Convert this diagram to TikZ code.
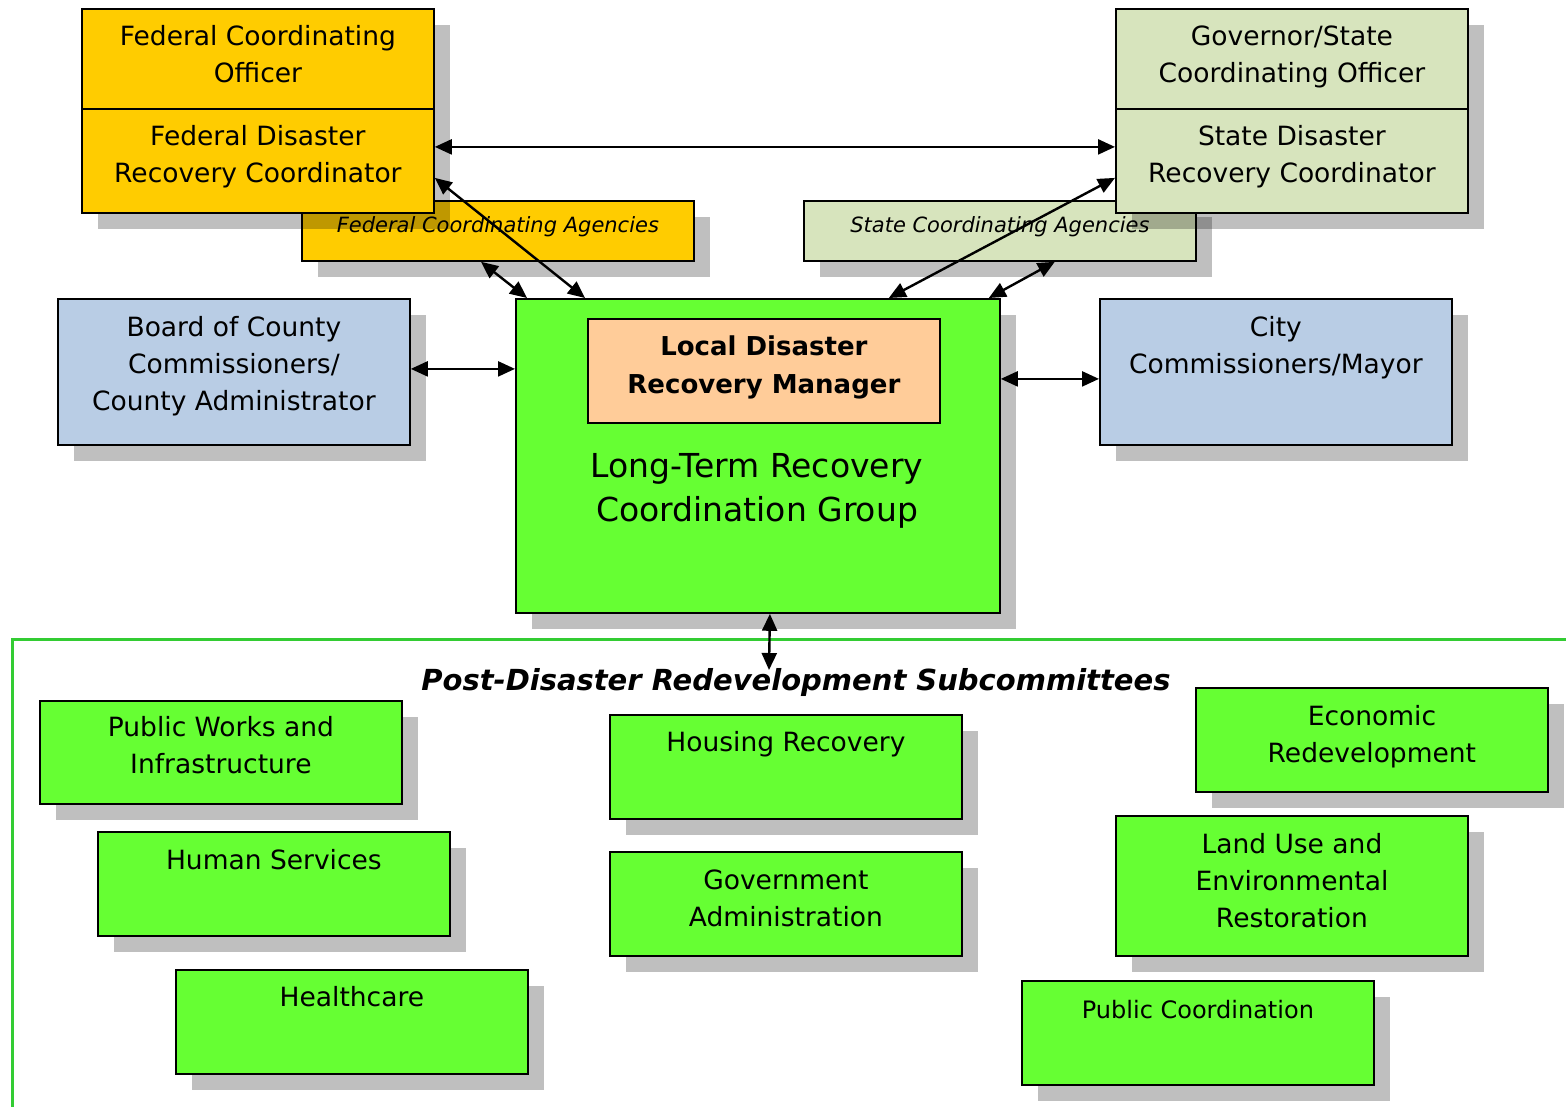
\documentclass[tikz,border=0pt]{standalone}
\usepackage{fontspec}
\setmainfont{DejaVu Sans}
\usetikzlibrary{arrows.meta,shadows}
\definecolor{fedY}{HTML}{FFCC00}
\definecolor{stateG}{HTML}{D7E4BD}
\definecolor{cntyB}{HTML}{B9CDE5}
\definecolor{brGreen}{HTML}{66FF33}
\definecolor{peach}{HTML}{FFCC99}
\definecolor{lineGreen}{HTML}{33CC33}
\begin{document}
\begin{tikzpicture}[x=1pt,y=-1pt,
  box/.style={draw=black, line width=1.8pt, anchor=north west, inner sep=0pt,
    drop shadow={shadow xshift=16pt, shadow yshift=-16pt, fill=black, opacity=0.25}},
  wbox/.style={box, minimum width=352pt, minimum height=104pt},
  subbox/.style={wbox, fill=brGreen},
  txt/.style={anchor=north, inner sep=0pt, align=center, font=\fontsize{26.5}{37}\selectfont},
  agtxt/.style={anchor=north, inner sep=0pt, align=center, font=\fontsize{21}{24}\selectfont\itshape},
  link/.style={line width=2.4pt, {Triangle[length=17pt,width=15pt]}-{Triangle[length=17pt,width=15pt]}}
]
\useasboundingbox (0,0) rectangle (1566,1107);

% coordinating agencies (drawn first, overlapped by shadows)
\node[box, fill=fedY, minimum width=392pt, minimum height=60pt] (fca) at (301,200) {};
\node[agtxt] (tfca) at ([yshift=-16pt]fca.north) {Federal Coordinating Agencies};
\node[box, fill=stateG, minimum width=392pt, minimum height=60pt] (sca) at (803,200) {};
\node[agtxt] (tsca) at ([yshift=-16pt]sca.north) {State Coordinating Agencies};

% federal
\node[wbox, fill=fedY, minimum height=100pt] (fco) at (81,8) {};
\node[txt] (tfco) at ([yshift=-17.3pt]fco.north) {Federal Coordinating\\Officer};
\node[wbox, fill=fedY] (fdrc) at (81,108) {};
\node[txt] (tfdrc) at ([yshift=-17.3pt]fdrc.north) {Federal Disaster\\Recovery Coordinator};

% state
\node[wbox, fill=stateG, minimum height=100pt] (gov) at (1115,8) {};
\node[txt] (tgov) at ([yshift=-17.3pt]gov.north) {Governor/State\\Coordinating Officer};
\node[wbox, fill=stateG] (sdrc) at (1115,108) {};
\node[txt] (tsdrc) at ([yshift=-17.3pt]sdrc.north) {State Disaster\\Recovery Coordinator};

% county / city
\node[wbox, fill=cntyB, minimum height=146pt] (board) at (57,298) {};
\node[txt] (tboard) at ([yshift=-18.3pt]board.north) {Board of County\\Commissioners/\\County Administrator};
\node[wbox, fill=cntyB, minimum height=146pt] (city) at (1099,298) {};
\node[txt] (tcity) at ([yshift=-18.3pt]city.north) {City\\Commissioners/Mayor};

% long-term recovery group
\node[box, fill=brGreen, minimum width=484pt, minimum height=314pt] (ltr) at (515,298) {};
\node[draw=black, line width=1.8pt, fill=peach, anchor=north west, inner sep=0pt,
      minimum width=352pt, minimum height=104pt] (ldrm) at (587,318) {};
\node[txt, font=\fontsize{26}{38}\selectfont\bfseries] (tldrm) at ([yshift=-17.7pt]ldrm.north) {Local Disaster\\Recovery Manager};
\node[txt, font=\fontsize{33}{44}\selectfont] (tltr) at (757,453) {Long-Term Recovery\\Coordination Group};

% subcommittee frame
\draw[lineGreen, line width=3pt] (12,1110) -- (12,639) -- (1570,639);
\node[anchor=north, inner sep=0pt, font=\fontsize{29}{32}\selectfont\bfseries\itshape] (title) at (796,668.6) {Post-Disaster Redevelopment Subcommittees};

% subcommittees
\node[subbox, minimum width=362pt, minimum height=103pt] (pw) at (39,700) {};
\node[txt] (tpw) at ([yshift=-16.3pt]pw.north) {Public Works and\\Infrastructure};
\node[subbox] (hs) at (97,831) {};
\node[txt] (ths) at ([yshift=-18.3pt]hs.north) {Human Services};
\node[subbox] (hc) at (175,969) {};
\node[txt] (thc) at ([yshift=-17.3pt]hc.north) {Healthcare};
\node[subbox] (hr) at (609,714) {};
\node[txt] (thr) at ([yshift=-17.3pt]hr.north) {Housing Recovery};
\node[subbox] (ga) at (609,851) {};
\node[txt] (tga) at ([yshift=-18.3pt]ga.north) {Government\\Administration};
\node[subbox] (er) at (1195,687) {};
\node[txt] (ter) at ([yshift=-18.3pt]er.north) {Economic\\Redevelopment};
\node[subbox, minimum height=140pt] (lu) at (1115,815) {};
\node[txt] (tlu) at ([yshift=-18.3pt]lu.north) {Land Use and\\Environmental\\Restoration};
\node[subbox] (pc) at (1021,980) {};
\node[txt, font=\fontsize{24}{30}\selectfont] (tpc) at ([yshift=-20.5pt]pc.north) {Public Coordination};

% connectors
\draw[link] ([yshift=14pt]fdrc.east) -- ([yshift=14pt]sdrc.west);
\draw[link] ([yshift=-17pt]fdrc.east) -- ([xshift=70pt]ltr.north west);
\draw[link] ([xshift=180pt]fca.south west) -- ([xshift=12pt]ltr.north west);
\draw[link] ([yshift=-17pt]sdrc.west) -- ([xshift=-112pt]ltr.north east);
\draw[link] ([xshift=-142pt]sca.south east) -- ([xshift=-12pt]ltr.north east);
\draw[link] ([yshift=3pt]board.east) -- ([yshift=3pt]board.east -| ltr.west);
\coordinate (cityin) at ([yshift=-7pt]city.west);
\draw[link] (cityin -| ltr.east) -- (cityin);
\coordinate (subtop) at (769,670);
\draw[link] ([xshift=12pt]ltr.south) -- (subtop);
\end{tikzpicture}
\end{document}
